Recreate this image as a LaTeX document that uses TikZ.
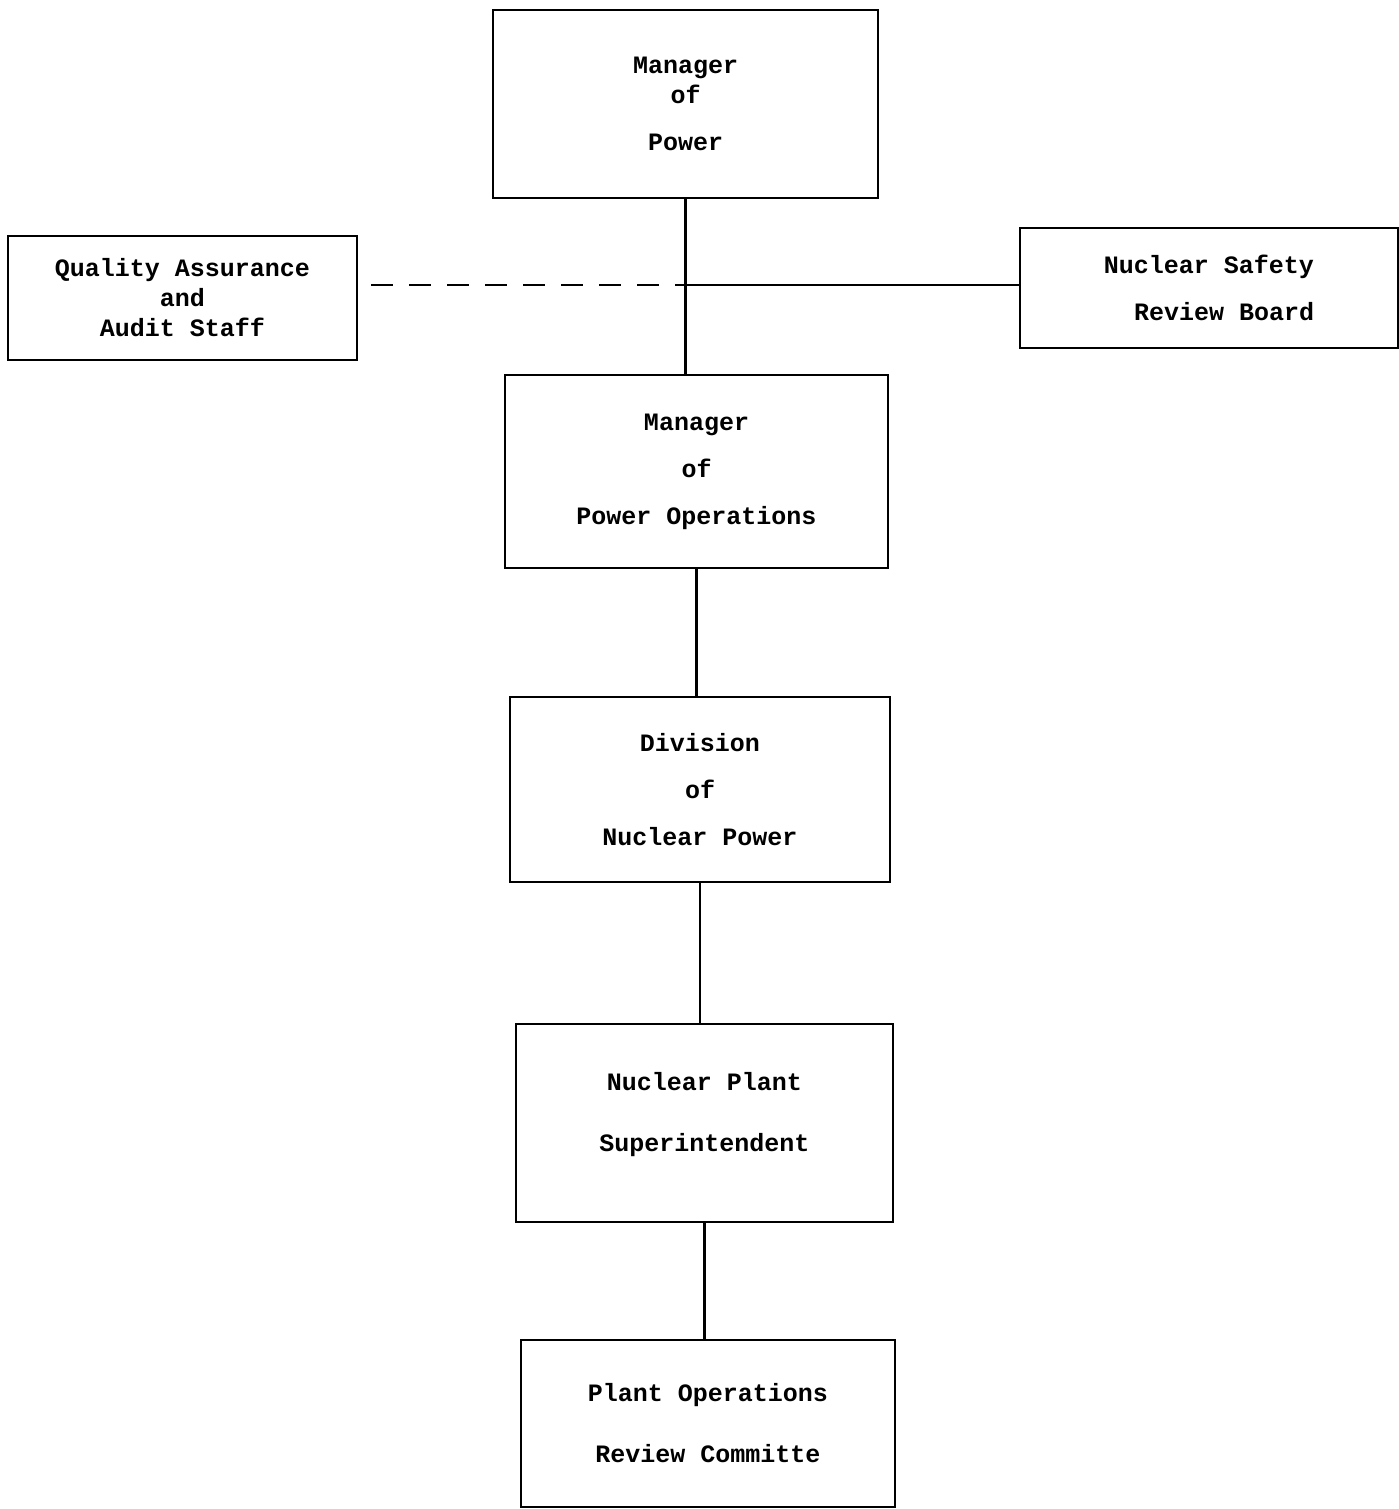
\documentclass[tikz,border=0pt]{standalone}
\usepackage{fontspec}
\setmonofont{Liberation Mono}
\begin{document}
\begin{tikzpicture}[x=1pt,y=-1pt,
  box/.style={draw=black,line width=2.4pt,rectangle,inner sep=0pt,align=center,
    font=\ttfamily\bfseries\fontsize{25}{30}\selectfont,text=black},
  link/.style={draw=black,line width=2.6pt}]
\useasboundingbox (0,0) rectangle (1398,1509);
\fill[white] (0,0) rectangle (1398,1509);
\node[box,minimum width=385pt,minimum height=188pt] (b1) at (685.5,104) {Manager\\of\\[17pt]Power};
\node[box,minimum width=349pt,minimum height=124pt] (b2) at (182.5,298) {Quality Assurance\\and\\Audit Staff};
\node[box,minimum width=378pt,minimum height=120pt] (b3) at (1209,288) {Nuclear Safety\\[17pt]\ \ Review Board};
\node[box,minimum width=383pt,minimum height=193pt] (b4) at (696.5,471.5) {Manager\\[17pt]of\\[17pt]Power Operations};
\node[box,minimum width=380pt,minimum height=185pt] (b5) at (700,789.5) {Division\\[17pt]of\\[17pt]Nuclear Power};
\node[box,minimum width=377pt,minimum height=198pt] (b6) at (704.5,1123) {Nuclear Plant\\[31pt]Superintendent\\[-8pt]\mbox{}};
\node[box,minimum width=374pt,minimum height=167pt] (b7) at (708,1423.5) {Plant Operations\\[31pt]Review Committe};
\coordinate (j) at (687,285);
\draw[link] (b1.south) -- (b1.south |- b4.north);
\draw[link] (j) -- (j -| b3.west);
\draw[link,dash pattern=on 22pt off 16pt,shorten <=13pt] (b2.east |- j) -- (j);
\draw[link] (b4.south) -- (b4.south |- b5.north);
\draw[link] (b5.south) -- (b5.south |- b6.north);
\draw[link] (b6.south) -- (b6.south |- b7.north);
\end{tikzpicture}
\end{document}
